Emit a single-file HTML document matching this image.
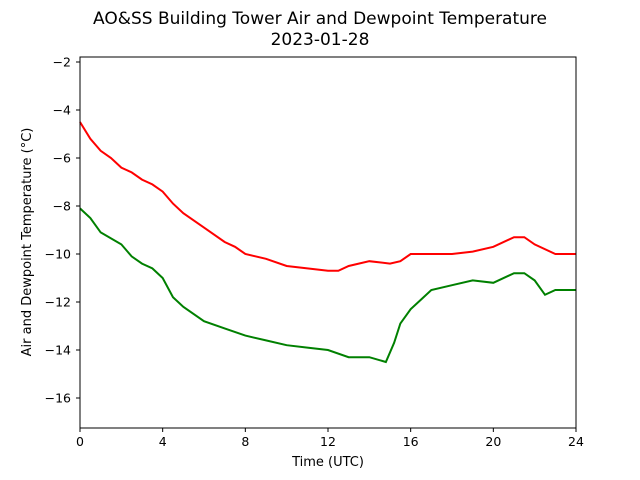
<!DOCTYPE html>
<html><head><meta charset="utf-8"><style>
body{margin:0;background:#fff;}
svg{display:block;font-family:"DejaVu Sans","Liberation Sans",sans-serif;}
</style></head><body>
<svg id="chart" width="640" height="480">
<text x="320" y="24" text-anchor="middle" font-size="17">AO&amp;SS Building Tower Air and Dewpoint Temperature</text>
<text x="320" y="45" text-anchor="middle" font-size="17">2023-01-28</text>
<g id="plot"></g>
<rect x="80" y="57" width="496" height="371" fill="none" stroke="#000" stroke-width="1"/>
<text x="328" y="466" text-anchor="middle" font-size="13">Time (UTC)</text>
<text transform="translate(31,242) rotate(-90)" text-anchor="middle" font-size="13">Air and Dewpoint Temperature (°C)</text>
</svg>
<script>
const xTicks=[0,4,8,12,16,20,24];
const yTicks=[-16,-14,-12,-10,-8,-6,-4,-2];
const airTimes=[0,0.5,1,1.5,2,2.5,3,3.5,4,4.5,5,6,7,7.5,8,9,10,11,12,12.5,13,14,15,15.5,16,17,18,19,20,21,21.5,22,23,24];
const airTemp=[-4.5,-5.2,-5.7,-6.0,-6.4,-6.6,-6.9,-7.1,-7.4,-7.9,-8.3,-8.9,-9.5,-9.7,-10.0,-10.2,-10.5,-10.6,-10.7,-10.7,-10.5,-10.3,-10.4,-10.3,-10.0,-10.0,-10.0,-9.9,-9.7,-9.3,-9.3,-9.6,-10.0,-10.0];
const dewTimes=[0,0.5,1,2,2.5,3,3.5,4,4.5,5,6,7,8,9,10,11,12,13,14,14.8,15.2,15.5,16,16.5,17,18,19,20,21,21.5,22,22.5,23,24];
const dewTemp=[-8.1,-8.5,-9.1,-9.6,-10.1,-10.4,-10.6,-11.0,-11.8,-12.2,-12.8,-13.1,-13.4,-13.6,-13.8,-13.9,-14.0,-14.3,-14.3,-14.5,-13.7,-12.9,-12.3,-11.9,-11.5,-11.3,-11.1,-11.2,-10.8,-10.8,-11.1,-11.7,-11.5,-11.5];
const X=t=>80+t/24*496;
const Y=v=>62+(-2-v)*24;
const ns="http://www.w3.org/2000/svg";
const g=document.getElementById('plot');
function mk(tag,a){const e=document.createElementNS(ns,tag);for(const k in a)e.setAttribute(k,a[k]);g.appendChild(e);return e;}
xTicks.forEach(t=>{
  const l=mk('line',{x1:X(t),x2:X(t),y1:428,y2:432,stroke:'#000'});
  
  
  const tx=mk('text',{x:X(t),y:446,'text-anchor':'middle','font-size':'12.5'});
  tx.textContent=t;
  
  
});
yTicks.forEach(v=>{
  const l=mk('line',{x1:76,x2:80,y1:Y(v),y2:Y(v),stroke:'#000'});
  
  
  const tx=mk('text',{x:71,y:Y(v)+4.5,'text-anchor':'end','font-size':'12.5'});
  tx.textContent='\u2212'+Math.abs(v);
  
  
});
function line(ts,vs,color,name){
  const p=mk('polyline',{points:ts.map((t,i)=>X(t)+','+Y(vs[i])).join(' '),fill:'none',stroke:color,'stroke-width':'2'});
  
  
}
line(airTimes,airTemp,'#ff0000','air-temperature-line');
line(dewTimes,dewTemp,'#008000','dewpoint-temperature-line');
</script>
</body></html>
